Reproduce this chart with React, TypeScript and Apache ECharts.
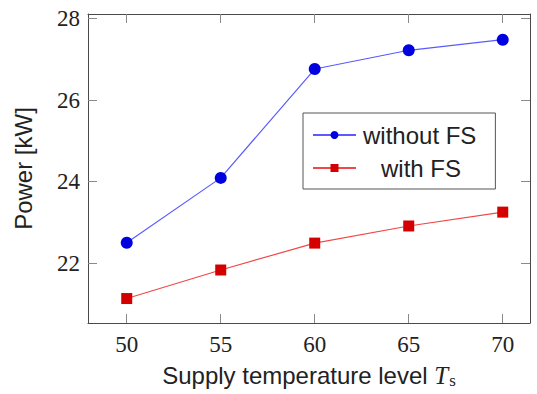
import React, { useEffect, useRef } from 'react';
import * as echarts from 'echarts';

const temperatures = [50, 55, 60, 65, 70];
const withoutFS = [22.5, 24.09, 26.76, 27.22, 27.48];
const withFS = [21.13, 21.83, 22.49, 22.91, 23.25];
const xTicks = [50, 55, 60, 65, 70];
const yTicks = [22, 24, 26, 28];
const seriesNames = ['without FS', 'with FS'];

export default function App() {
  const ref = useRef<HTMLDivElement>(null);
  useEffect(() => {
    const chart = echarts.init(ref.current!, null, { renderer: 'svg' });
    const frame = '#4a4a4a';
    const tickColor = '#8a8a8a';
    const sans = 'Liberation Sans';
    const serif = 'Liberation Serif';
    const txt = '#222';
    const xRange = { min: 47.94, max: 71.45 };
    const yRange = { min: 20.53, max: 28.11 };
    const tick = (vals: number[]) => ({
      show: true,
      inside: true,
      length: 9,
      lineStyle: { color: tickColor, width: 1 },
      customValues: vals,
    });
    const line = { show: true, lineStyle: { color: frame, width: 1 } };
    chart.setOption({
      animation: false,
      backgroundColor: '#fff',
      grid: { left: 88, top: 14, right: 7, bottom: 71, containLabel: false },
      xAxis: [
        {
          type: 'value',
          ...xRange,
          position: 'bottom',
          axisLine: line,
          splitLine: { show: false },
          axisTick: tick(xTicks),
          axisLabel: {
            customValues: xTicks,
            margin: 10,
            fontFamily: serif,
            fontSize: 23,
            color: txt,
          },
          name: '{n|Supply temperature level }{t|T}{s|s}',
          nameLocation: 'middle',
          nameGap: 40,
          nameTextStyle: {
            rich: {
              n: { fontFamily: sans, fontSize: 24, color: txt, lineHeight: 24 },
              t: { fontFamily: serif, fontStyle: 'italic', fontSize: 25, color: txt, lineHeight: 24 },
              s: { fontFamily: serif, fontSize: 17, color: txt, lineHeight: 17, padding: [10, 0, 0, 1] },
            },
          },
        },
        {
          type: 'value',
          ...xRange,
          position: 'top',
          axisLine: line,
          splitLine: { show: false },
          axisTick: tick(xTicks),
          axisLabel: { show: false },
        },
      ],
      yAxis: [
        {
          type: 'value',
          ...yRange,
          position: 'left',
          axisLine: line,
          splitLine: { show: false },
          axisTick: tick(yTicks),
          axisLabel: {
            customValues: yTicks,
            margin: 8,
            fontFamily: serif,
            fontSize: 23,
            color: txt,
          },
          name: 'Power [kW]',
          nameLocation: 'middle',
          nameGap: 53,
          nameTextStyle: { fontFamily: sans, fontSize: 24, color: txt },
        },
        {
          type: 'value',
          ...yRange,
          position: 'right',
          axisLine: line,
          splitLine: { show: false },
          axisTick: tick(yTicks),
          axisLabel: { show: false },
        },
      ],
      legend: {
        data: seriesNames,
        orient: 'vertical',
        left: 303,
        top: 113,
        itemWidth: 43,
        itemHeight: 10,
        itemGap: 9,
        padding: [10, 19, 9, 9],
        borderColor: '#555',
        borderWidth: 1,
        backgroundColor: '#fff',
        formatter: (name: string) => (name === seriesNames[0] ? `{a|${name}}` : `{b|${name}}`),
        textStyle: {
          fontFamily: sans,
          fontSize: 24,
          color: txt,
          rich: {
            a: { fontFamily: sans, fontSize: 24, lineHeight: 24, color: txt, padding: [0, 0, 0, 2] },
            b: { fontFamily: sans, fontSize: 24, lineHeight: 24, color: txt, padding: [0, 0, 0, 20] },
          },
        },
      },
      series: [
        {
          name: seriesNames[0],
          type: 'line',
          data: temperatures.map((t, i) => [t, withoutFS[i]]),
          symbol: 'circle',
          symbolSize: 12,
          itemStyle: { color: '#0000e0' },
          lineStyle: { color: '#5a5aff', width: 1.2 },
          xAxisIndex: 0,
          yAxisIndex: 0,
        },
        {
          name: seriesNames[1],
          type: 'line',
          data: temperatures.map((t, i) => [t, withFS[i]]),
          symbol: 'rect',
          symbolSize: 11,
          itemStyle: { color: '#d40000' },
          lineStyle: { color: '#f04848', width: 1.2 },
          xAxisIndex: 0,
          yAxisIndex: 0,
        },
      ],
    });
    return () => chart.dispose();
  }, []);
  return <div ref={ref} style={{ position: 'fixed', left: 0, top: 0, width: 537, height: 394 }} />;
}
